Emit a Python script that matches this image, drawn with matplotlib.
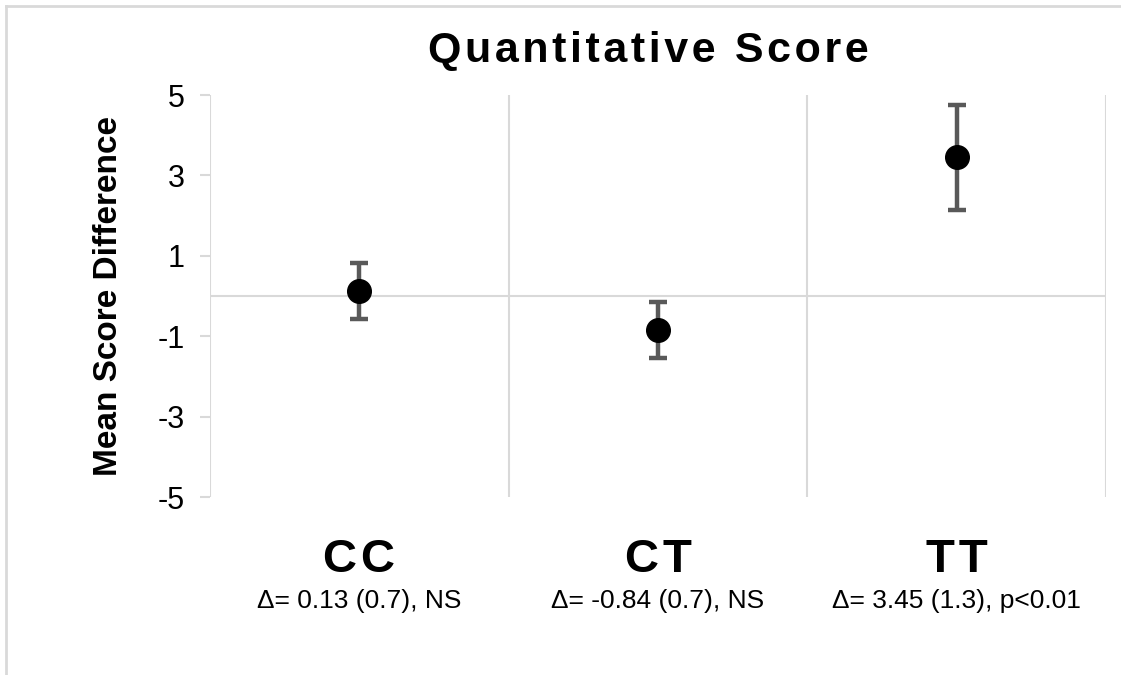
import numpy as np
import matplotlib.pyplot as plt
from matplotlib.lines import Line2D
from matplotlib.transforms import blended_transform_factory

plt.rcParams['font.family'] = ['Liberation Sans', 'DejaVu Sans']

categories = ['CC', 'CT', 'TT']
means = [0.13, -0.84, 3.45]
errors = [0.7, 0.7, 1.3]
notes = ['\u0394= 0.13 (0.7), NS', '\u0394= -0.84 (0.7), NS', '\u0394= 3.45 (1.3), p<0.01']
yticks = [-5, -3, -1, 1, 3, 5]

fig = plt.figure(figsize=(11.21, 6.75), dpi=100)
ax = fig.add_axes([210 / 1121, 1 - 497 / 675, 896 / 1121, 402 / 675])

x = np.arange(1, len(categories) + 1)
grid = '#d9d9d9'
hair = '\u200a'

# category separators and zero line
for b in np.arange(0.5, len(categories) + 1):
    ax.axvline(b, color=grid, lw=1.5, zorder=0)
ax.axhline(0, color=grid, lw=1.5, zorder=0)

ax.errorbar(x, means, yerr=errors, fmt='none', ecolor='#595959',
            elinewidth=3.2, capsize=6.5, capthick=3.2, zorder=2)
ax.plot(x, means, 'o', color='black', markersize=17, zorder=3)

ax.set_xlim(0.5, len(categories) + 0.5)
ax.set_ylim(-5, 5)
ax.set_yticks(yticks)
ax.set_yticklabels([str(t) for t in yticks], fontsize=22)
ax.tick_params(axis='y', length=7, width=1.5, color=grid, pad=11)
ax.set_xticks([])
for s in ax.spines.values():
    s.set_visible(False)

tr = blended_transform_factory(ax.transData, fig.transFigure)
for xi, c, n in zip(x, categories, notes):
    ax.text(xi, 1 - 572 / 675, hair.join(c), transform=tr, ha='center', va='baseline',
            fontsize=34, fontweight='bold')
    ax.text(xi, 1 - 608 / 675, n, transform=tr, ha='center', va='baseline', fontsize=19)

ax.set_ylabel('Mean Score Difference', fontsize=24, fontweight='bold', labelpad=24)
fig.text(648 / 1121, 1 - 62 / 675, hair.join('Quantitative Score'), ha='center',
         va='baseline', fontsize=31, fontweight='bold')

# outer chart border
fig.add_artist(Line2D([6 / 1121, 1], [1 - 6 / 675, 1 - 6 / 675], color=grid, lw=2))
fig.add_artist(Line2D([6 / 1121, 6 / 1121], [0, 1 - 6 / 675], color=grid, lw=2))

fig.savefig('out.png', dpi=100)
